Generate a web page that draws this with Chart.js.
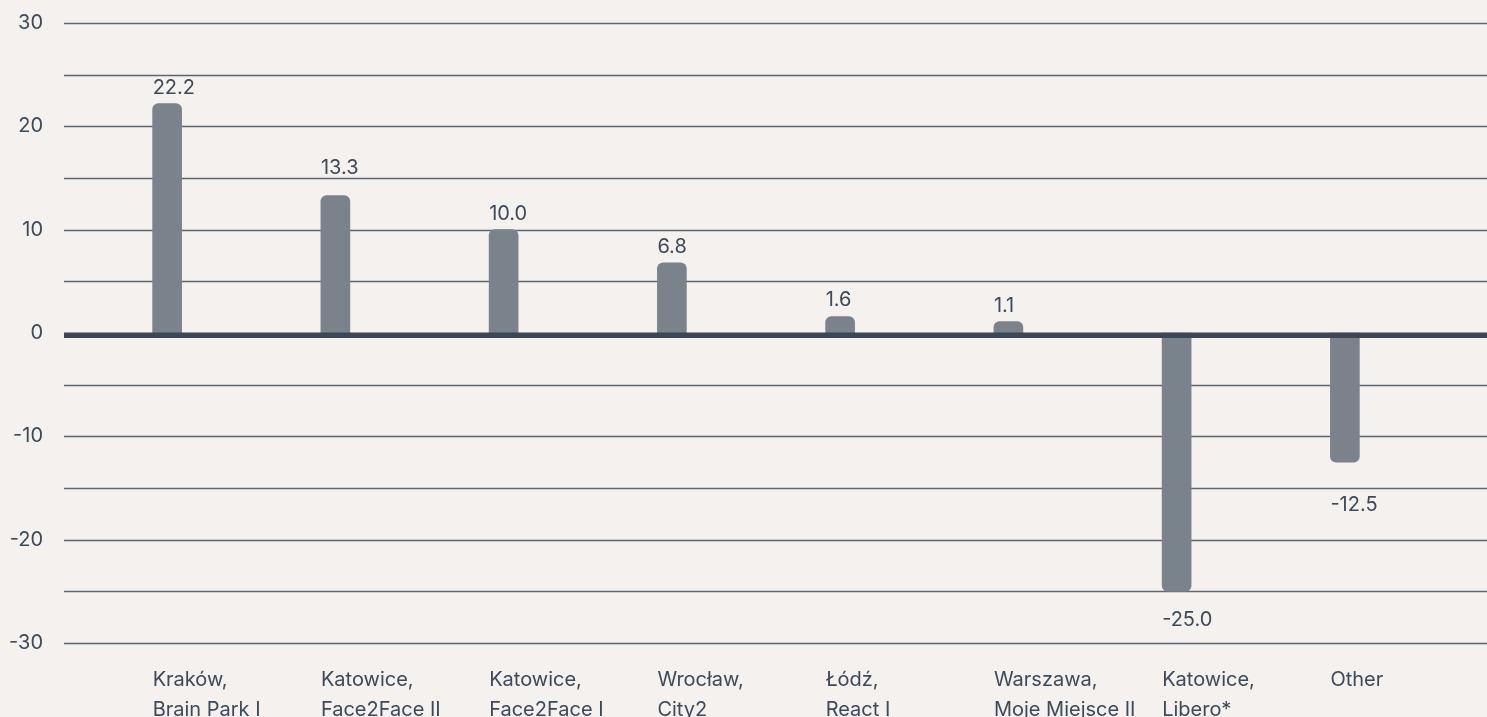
<!DOCTYPE html>
<html>
<head>
<meta charset="utf-8">
<script src="https://cdn.jsdelivr.net/npm/chart.js@4"></script>
<style>
  html, body { margin: 0; padding: 0; background: #f5f1ee; }
  #wrap { width: 1487px; height: 717px; }
</style>
</head>
<body>
<div id="wrap"><canvas id="c" width="1487" height="717"></canvas></div>
<script>
const categories = [
  ['Kraków,', 'Brain Park I'],
  ['Katowice,', 'Face2Face II'],
  ['Katowice,', 'Face2Face I'],
  ['Wrocław,', 'City2'],
  ['Łódź,', 'React I'],
  ['Warszawa,', 'Moje Miejsce II'],
  ['Katowice,', 'Libero*'],
  ['Other']
];
const values = [22.2, 13.3, 10.0, 6.8, 1.6, 1.1, -25.0, -12.5];
const yMin = -30, yMax = 30, yLabelStep = 10, yGridStep = 5;

const FONT = 'Inter, "Noto Sans", sans-serif';
const TEXT = '#3d4a59';
const BAR = '#7a838b';
const GRID = '#5d6773';
const ZERO = '#3b4754';

function gridPixels(y) {
  const out = [];
  for (let v = yMin; v <= yMax; v += yGridStep) out.push(y.getPixelForValue(v));
  return out;
}

const gridPlugin = {
  id: 'fullGrid',
  beforeDatasetsDraw(chart) {
    const ctx = chart.ctx, y = chart.scales.y;
    ctx.save();
    ctx.strokeStyle = GRID;
    ctx.lineWidth = 1.3;
    for (let v = yMin; v <= yMax; v += yGridStep) {
      if (v === 0) continue;
      const py = Math.round(y.getPixelForValue(v)) + 0.5;
      ctx.beginPath();
      ctx.moveTo(64, py);
      ctx.lineTo(chart.width, py);
      ctx.stroke();
    }
    ctx.restore();
  },
  afterDatasetsDraw(chart) {
    const ctx = chart.ctx, y = chart.scales.y;
    ctx.save();
    const p0 = y.getPixelForValue(0);
    ctx.fillStyle = ZERO;
    ctx.fillRect(64, p0 - 0.5, chart.width - 64, 5.5);
    const grids = gridPixels(y);
    const capH = 15;
    const meta = chart.getDatasetMeta(0);
    ctx.fillStyle = TEXT;
    ctx.font = '20px ' + FONT;
    ctx.textAlign = 'left';
    ctx.textBaseline = 'alphabetic';
    meta.data.forEach((bar, i) => {
      const v = values[i];
      const left = bar.x - bar.width / 2;
      let base;
      if (v >= 0) {
        base = bar.y - 10;
        // keep the label clear of a gridline: sit just above it
        const hit = grids.find(g => g > base - capH && g < base + 2);
        if (hit !== undefined) base = hit - 4;
      } else {
        base = bar.y + 35;
        // keep the label clear of a gridline: drop just below it
        const hit = grids.find(g => g > base - capH - 2 && g < base + 2);
        if (hit !== undefined) base = hit + 8 + capH;
      }
      ctx.fillText(v.toFixed(1), left, base);
    });
    ctx.restore();
  }
};

new Chart(document.getElementById('c'), {
  type: 'bar',
  data: {
    labels: categories,
    datasets: [{
      data: values,
      backgroundColor: BAR,
      borderWidth: 0,
      borderRadius: 6,
      borderSkipped: 'start',
      barThickness: 29
    }]
  },
  options: {
    responsive: false,
    animation: false,
    devicePixelRatio: 1,
    layout: { padding: { top: 23, right: 58, left: 0, bottom: 0 } },
    plugins: { legend: { display: false }, tooltip: { enabled: false } },
    scales: {
      x: {
        grid: { display: false, drawTicks: false },
        border: { display: false },
        ticks: {
          autoSkip: false,
          maxRotation: 0,
          minRotation: 0,
          align: 'start',
          labelOffset: -14.5,
          padding: 22,
          color: TEXT,
          font: { family: FONT, size: 20, lineHeight: 1.5 }
        },
        afterFit(scale) { scale.height = 74; scale.paddingLeft = 0; scale.paddingRight = 0; }
      },
      y: {
        min: yMin,
        max: yMax,
        grid: { display: false, drawTicks: false },
        border: { display: false },
        ticks: {
          stepSize: yLabelStep,
          padding: 40,
          color: TEXT,
          font: { family: FONT, size: 20 }
        },
        afterFit(scale) { scale.width = 83; scale.paddingTop = 0; scale.paddingBottom = 0; }
      }
    }
  },
  plugins: [gridPlugin]
});
</script>
</body>
</html>
